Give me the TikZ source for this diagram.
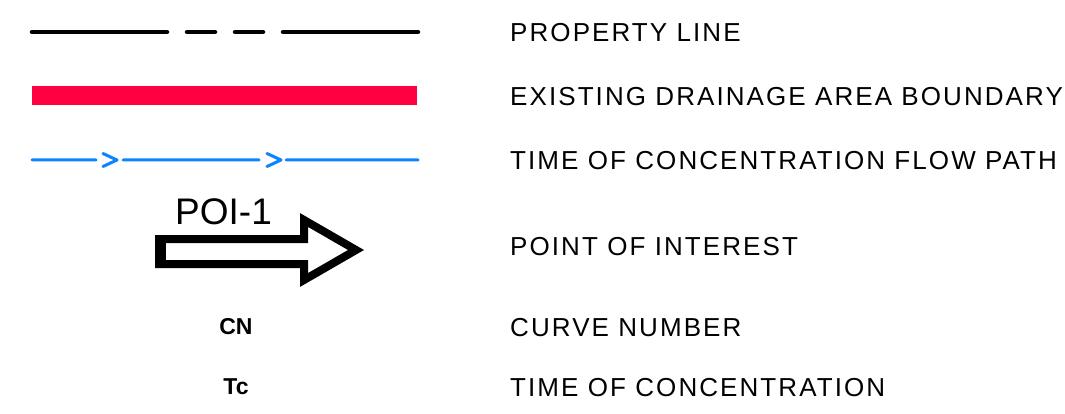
\documentclass[tikz,border=0pt]{standalone}
\usepackage{fontspec}
\setmainfont{Liberation Sans}
\newfontfamily\cadfont[LetterSpace=8]{Liberation Sans}
\definecolor{drainred}{RGB}{255,0,64}
\definecolor{tcblue}{RGB}{10,132,255}
\tikzset{
  legendtext/.style={anchor=base west,inner sep=0pt,font=\cadfont\fontsize{26}{26}\selectfont},
  symboltext/.style={anchor=base,inner sep=0pt,font=\bfseries\fontsize{23}{23}\selectfont}
}
\begin{document}
\begin{tikzpicture}[x=1pt,y=-1pt]
    \useasboundingbox (0,0) rectangle (1065,414);
    %% property line
    \draw[line width=4.5,line cap=round] (32,32) -- (167,32) (187,32) -- (215,32)
        (235,32) -- (263,32) (283,32) -- (418,32);
    %% drainage area boundary
    \fill[drainred] (32,86) rectangle (417,105);
    %% flow path
    \draw[tcblue,line width=3,line cap=round,line join=round]
        (32,160) -- (96,160) (123,160) -- (259,160) (286,160) -- (418,160)
        (103,153.5) -- (117,160) -- (103,166.5)
        (267,153.5) -- (281,160) -- (267,166.5);
    %% point of interest
    \draw[line width=8,line join=miter] (159,239) -- (304,239) -- (304,220) -- (356,250)
        -- (304,280) -- (304,264) -- (159,264) -- cycle;
    \fill (155,238) rectangle (166,268);
    \node[anchor=base west,inner sep=0pt,font=\fontsize{37}{37}\selectfont] (poi) at (175,225) {POI-1};
    %% symbols
    \node[symboltext] (cn) at (236,334) {CN};
    \node[symboltext] (tc) at (236,394) {Tc};
    %% labels
    \node[legendtext] (prop) at (510,42) {PROPERTY LINE};
    \node[legendtext] (drain) at (510,106) {EXISTING DRAINAGE AREA BOUNDARY};
    \node[legendtext] (flow) at (510,170) {TIME OF CONCENTRATION FLOW PATH};
    \node[legendtext] (poilabel) at (510,255) {POINT OF INTEREST};
    \node[legendtext] (cnlabel) at (510,336) {CURVE NUMBER};
    \node[legendtext] (tclabel) at (510,396) {TIME OF CONCENTRATION};
\end{tikzpicture}
\end{document}
